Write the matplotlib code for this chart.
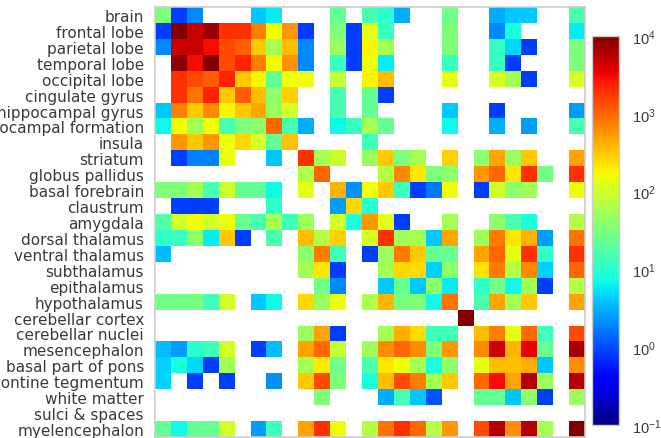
import numpy as np
import matplotlib
matplotlib.use('Agg')
import matplotlib.pyplot as plt
from matplotlib.colors import LogNorm

_ = np.nan

labels = ['brain', 'frontal lobe', 'parietal lobe', 'temporal lobe', 'occipital lobe',
          'cingulate gyrus', 'hippocampal gyrus', 'hippocampal formation', 'insula',
          'striatum', 'globus pallidus', 'basal forebrain', 'claustrum', 'amygdala',
          'dorsal thalamus', 'ventral thalamus', 'subthalamus', 'epithalamus',
          'hypothalamus', 'cerebellar cortex', 'cerebellar nuclei', 'mesencephalon',
          'basal part of pons', 'pontine tegmentum', 'white matter', 'sulci & spaces',
          'myelencephalon']

# One list per row, 27 columns
brain = [33, .85, 2, _, _, _, 4, 6, _, _, _, 23, _, 15, 10, 3, _, _, 27, _, _, 3, 4, 4, _, _, 15]
frontal = [.85, 9500, 4700, 7500, 1900, 1900, 750, 165, 550, .85, _, 33, .85, 135, 12, _, _, _, 33, _, _, 2, 8, _, _, _, 6]
parietal = [2, 4700, 4700, 3000, 1400, 1150, 300, 56, 350, 2, _, 48, .85, 175, 56, _, _, _, 33, _, _, 12, 5, .85, _, _, 33]
temporal = [_, 8500, 3000, 9500, 1400, 2200, 750, 165, 600, 2, _, 12, .85, 155, 6, _, _, _, 12, _, _, 12, .85, _, _, _, 33]
occipital = [_, 1900, 1400, 1150, 2300, 300, 175, 23, 155, 155, _, 85, _, 175, 350, _, _, _, 135, _, _, 110, 52, .85, _, _, 110]
cingulate = [_, 1900, 880, 2300, 300, 1150, 350, 40, 280, _, _, 15, _, 23, .85, _, _, _, _, _, _, _, _, _, _, _, _]
hipp_gyrus = [4, 750, 300, 650, 175, 300, 460, 48, 105, _, _, 15, _, 23, _, _, _, _, 4, _, _, .85, _, _, _, _, 2.5]
hipp_form = [7, 165, 52, 155, 15, 33, 40, 1000, 15, 3, _, 7, 12, 56, 23, _, _, _, 7, _, _, 3, _, 2.5, _, _, 15]
insula = [_, 560, 300, 550, 155, 255, 105, 23, 340, _, _, _, _, 13, _, _, _, _, _, _, _, _, _, _, _, _, _]
striatum = [_, .85, 1.8, 1.8, 150, _, _, 4, _, 1900, 56, 95, _, 48, 300, 33, 56, _, 280, _, 40, 460, 48, 300, _, _, 490]
pallidus = [_, _, _, _, _, _, _, _, _, 64, 1000, _, _, _, 70, 650, 215, 33, 40, _, 550, 1000, 215, 1900, 27, _, 1900]
forebrain = [33, 33, 56, 15, 95, 23, 23, 7, _, 135, _, 400, 2.2, 155, 300, 13, .85, 1.7, 165, _, .85, 100, 40, 52, _, _, 165]
claustrum = [_, .85, .85, .85, _, _, _, 11, _, _, _, 2.5, 255, 9, _, _, _, _, _, _, _, _, _, _, _, _, _]
amygdala = [18, 110, 160, 110, 150, 24, 15, 56, 13, 48, _, 105, 8, 550, 135, .85, _, _, 56, _, _, 40, 16, 8, _, _, 70]
dorsal = [11, 12, 40, 6, 300, .85, _, 16, _, 350, 70, 280, _, 110, 1900, 52, 56, 4, 460, _, 52, 800, 215, 400, 2.5, _, 880]
ventral = [3.5, _, _, _, _, _, _, _, _, 40, 750, 14, _, .85, 48, 800, 300, 23, 24, _, 490, 1000, 135, 1900, 11, _, 1900]
subthal = [_, _, _, _, _, _, _, _, _, 56, 215, .85, _, _, 56, 255, 240, 4.5, 40, _, 225, 800, 70, 650, 4.5, _, 1000]
epithal = [_, _, _, _, _, _, _, _, _, _, 27, 2, _, _, 4, 24, 4, 40, 6, _, 11, 27, 7, 52, .85, _, 70]
hypothal = [27, 27, 30, 14, 105, _, 4, 7, _, 255, 48, 155, _, 64, 390, 30, 33, 7, 880, _, 16, 490, 56, 300, _, _, 470]
cb_cortex = [_, _, _, _, _, _, _, _, _, _, _, _, _, _, _, _, _, _, _, 9800, _, _, _, _, _, _, _]
cb_nuclei = [_, _, _, _, _, _, _, _, _, 48, 470, .85, _, _, 56, 420, 240, 13, 14, _, 350, 750, 135, 1000, 14, _, 1400]
mesen = [3.5, 2.5, 10, 13, 110, _, .85, 3.5, _, 490, 1000, 85, _, 52, 620, 1000, 650, 33, 550, _, 650, 4500, 400, 3500, 24, _, 6500]
pons = [4.5, 8, 5, .85, 52, _, _, _, _, 56, 205, 27, _, 15, 215, 155, 56, 8, 40, _, 135, 350, 350, 420, 4, _, 620]
tegmentum = [4.5, _, .85, _, .85, _, _, 2.2, _, 300, 1400, 33, _, 8, 350, 1400, 750, 56, 300, _, 1000, 3000, 490, 6000, 48, _, 6000]
white = [_, _, _, _, _, _, _, _, _, _, 33, _, _, _, 3, 15, 4, 1.1, _, _, 23, 23, 4, 40, .85, _, 48]
sulci = [_] * 27
myelen = [23, 7, 23, 24, 105, _, 2.5, 13, _, 490, 1900, 165, _, 70, 880, 1900, 1000, 70, 550, _, 1400, 6000, 620, 6000, 56, _, 9500]

rows = [brain, frontal, parietal, temporal, occipital, cingulate, hipp_gyrus, hipp_form,
        insula, striatum, pallidus, forebrain, claustrum, amygdala, dorsal, ventral,
        subthal, epithal, hypothal, cb_cortex, cb_nuclei, mesen, pons, tegmentum,
        white, sulci, myelen]
matrix = np.array(rows, dtype=float)

W, H = 661, 439
text_col = '#3a3a3a'
spine_col = '#cccccc'

fig = plt.figure(figsize=(W / 100, H / 100), dpi=100)

# Main matrix
ax = fig.add_axes([155 / W, 1 - 438 / H, 430 / W, 430 / H])
im = ax.pcolormesh(matrix, cmap='jet', norm=LogNorm(vmin=0.1, vmax=1e4))
ax.set_xlim(0, 27)
ax.set_ylim(27, 0)
ax.set_xticks([])
ax.set_yticks(np.arange(27) + 0.5)
ax.set_yticklabels(labels, fontsize=11, color=text_col)
ax.tick_params(axis='y', length=0, pad=8)
for s in ax.spines.values():
    s.set_color(spine_col)
    s.set_linewidth(1.2)

# Colorbar
cax = fig.add_axes([592 / W, 1 - 426 / H, 27 / W, 389 / H])
cb = fig.colorbar(im, cax=cax)
cb.set_ticks([0.1, 1, 10, 100, 1000, 10000])
cb.ax.minorticks_off()
cb.ax.tick_params(length=0, pad=9, labelsize=10.5, labelcolor=text_col)
for t in cb.ax.get_yticklabels():
    t.set_family('Liberation Sans')
cb.outline.set_edgecolor(spine_col)
cb.outline.set_linewidth(1.0)

fig.savefig('out.png', dpi=100)
plt.close(fig)
